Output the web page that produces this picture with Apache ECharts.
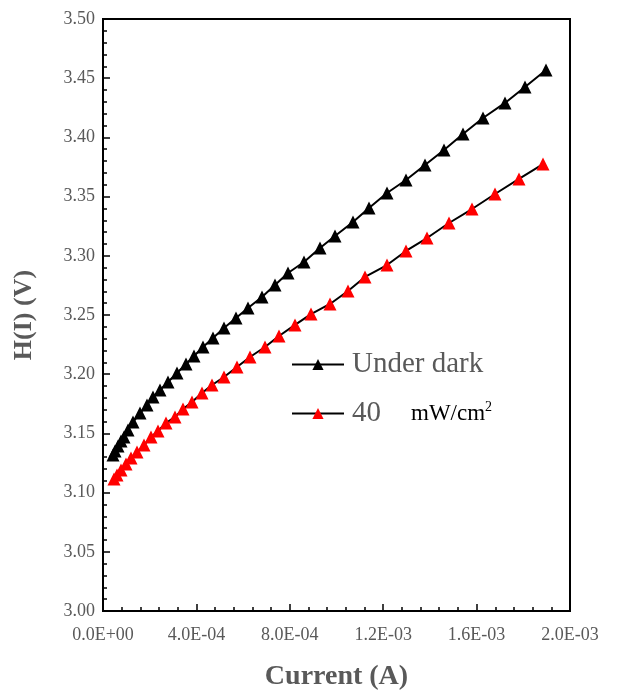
<!DOCTYPE html>
<html>
<head>
<meta charset="utf-8">
<title>H(I) vs Current</title>
<script src="https://cdn.jsdelivr.net/npm/echarts@6/dist/echarts.min.js"></script>
<style>
  html, body { margin: 0; padding: 0; background: #fff; }
  #chart { width: 638px; height: 691px; }
</style>
</head>
<body>
<div id="chart"></div>
<script>
// values: current (A) and H(I) (V)
const darkCurrent = [4.28e-5, 5.14e-5, 6.42e-5, 7.71e-5, 8.99e-5, 1.071e-4, 1.285e-4, 1.585e-4, 1.884e-4, 2.141e-4,
  2.441e-4, 2.784e-4, 3.169e-4, 3.555e-4, 3.897e-4, 4.283e-4, 4.711e-4, 5.182e-4, 5.696e-4, 6.210e-4,
  6.809e-4, 7.366e-4, 7.923e-4, 8.608e-4, 9.293e-4, 9.936e-4, 1.0707e-3, 1.1392e-3, 1.2163e-3, 1.2976e-3,
  1.3790e-3, 1.4604e-3, 1.5418e-3, 1.6274e-3, 1.7216e-3, 1.8073e-3, 1.8972e-3];
const darkH = [3.1318, 3.1351, 3.1394, 3.1436, 3.1470, 3.1529, 3.1596, 3.1672, 3.1740, 3.1807,
  3.1867, 3.1934, 3.2010, 3.2086, 3.2154, 3.2230, 3.2306, 3.2390, 3.2475, 3.2559,
  3.2652, 3.2753, 3.2855, 3.2948, 3.3066, 3.3167, 3.3285, 3.3404, 3.3530, 3.3640,
  3.3767, 3.3894, 3.4029, 3.4164, 3.4291, 3.4426, 3.4569];

const lightCurrent = [4.71e-5, 6.00e-5, 7.71e-5, 9.85e-5, 1.199e-4, 1.456e-4, 1.756e-4, 2.056e-4, 2.355e-4, 2.698e-4,
  3.084e-4, 3.426e-4, 3.812e-4, 4.240e-4, 4.668e-4, 5.182e-4, 5.739e-4, 6.296e-4, 6.938e-4, 7.538e-4,
  8.223e-4, 8.908e-4, 9.722e-4, 1.0493e-3, 1.1221e-3, 1.2163e-3, 1.2977e-3, 1.3876e-3, 1.4818e-3, 1.5803e-3,
  1.6788e-3, 1.7816e-3, 1.8844e-3];
const lightH = [3.1115, 3.1149, 3.1191, 3.1242, 3.1292, 3.1343, 3.1402, 3.1470, 3.1520, 3.1588,
  3.1639, 3.1706, 3.1765, 3.1841, 3.1909, 3.1976, 3.2061, 3.2145, 3.2230, 3.2323,
  3.2416, 3.2508, 3.2593, 3.2703, 3.2821, 3.2922, 3.3041, 3.3150, 3.3277, 3.3395,
  3.3522, 3.3649, 3.3775];

const seriesNames = ['Under dark', '40 mW/cm2'];

const FONT = "'Times New Roman', 'Liberation Serif', serif";
const GREY = '#595959';

function sci(v) {
  if (Math.abs(v) < 1e-12) return '0.0E+00';
  const parts = v.toExponential(1).toUpperCase().split('E');
  let exp = parseInt(parts[1], 10);
  const sign = exp < 0 ? '-' : '+';
  exp = Math.abs(exp);
  return parts[0] + 'E' + sign + (exp < 10 ? '0' + exp : exp);
}

function zip(xs, ys) {
  return xs.map((x, i) => [x, ys[i]]);
}

const chart = echarts.init(document.getElementById('chart'));

chart.setOption({
  animation: false,
  backgroundColor: '#fff',
  grid: {
    left: 103, right: 68, top: 19, bottom: 80,
    outerBoundsMode: 'none',
    containLabel: false,
    show: true, borderColor: '#000', borderWidth: 2
  },
  legend: {
    orient: 'vertical',
    left: 286, top: 345,
    itemWidth: 52, itemHeight: 14,
    itemGap: 20,
    data: seriesNames,
    formatter: function (name) {
      if (name === seriesNames[0]) return '{t|Under dark}';
      return '{t|40}{u|mW/cm}{s|2}';
    },
    textStyle: {
      fontFamily: FONT,
      color: GREY,
      fontSize: 29,
      rich: {
        t: { fontFamily: FONT, fontSize: 29, color: GREY, padding: [0, 0, 0, 3] },
        u: { fontFamily: FONT, fontSize: 23, color: '#000', padding: [0, 0, 0, 30] },
        s: { fontFamily: FONT, fontSize: 14, color: '#000', padding: [0, 0, 13, 0] }
      }
    }
  },
  xAxis: {
    type: 'value',
    min: 0, max: 0.002, interval: 0.0004,
    name: 'Current (A)',
    nameLocation: 'middle',
    nameGap: 52,
    nameTextStyle: { fontFamily: FONT, fontSize: 28, fontWeight: 'bold', color: GREY },
    axisLine: { lineStyle: { color: '#000', width: 2 } },
    axisTick: { inside: true, length: 7, lineStyle: { color: '#000', width: 1.5 } },
    minorTick: { show: true, splitNumber: 5, length: 4, lineStyle: { color: '#000', width: 1.5 } },
    splitLine: { show: false },
    axisLabel: { formatter: sci, fontFamily: FONT, fontSize: 18, color: GREY, margin: 15 }
  },
  yAxis: {
    type: 'value',
    min: 3.0, max: 3.5, interval: 0.05,
    name: 'H(I) (V)',
    nameLocation: 'middle',
    nameGap: 66,
    nameTextStyle: { fontFamily: FONT, fontSize: 26, fontWeight: 'bold', color: GREY },
    axisLine: { lineStyle: { color: '#000', width: 2 } },
    axisTick: { inside: true, length: 7, lineStyle: { color: '#000', width: 1.5 } },
    minorTick: { show: true, splitNumber: 5, length: 4, lineStyle: { color: '#000', width: 1.5 } },
    splitLine: { show: false },
    axisLabel: { formatter: v => v.toFixed(2), fontFamily: FONT, fontSize: 18, color: GREY, margin: 8 }
  },
  series: [
    {
      name: seriesNames[0],
      type: 'line',
      data: zip(darkCurrent, darkH),
      symbol: 'triangle',
      symbolSize: 13,
      lineStyle: { color: '#000', width: 2 },
      itemStyle: { color: '#000' }
    },
    {
      name: seriesNames[1],
      type: 'line',
      data: zip(lightCurrent, lightH),
      symbol: 'triangle',
      symbolSize: 13,
      lineStyle: { color: '#000', width: 2 },
      itemStyle: { color: '#ff0000' }
    }
  ]
});
</script>
</body>
</html>
